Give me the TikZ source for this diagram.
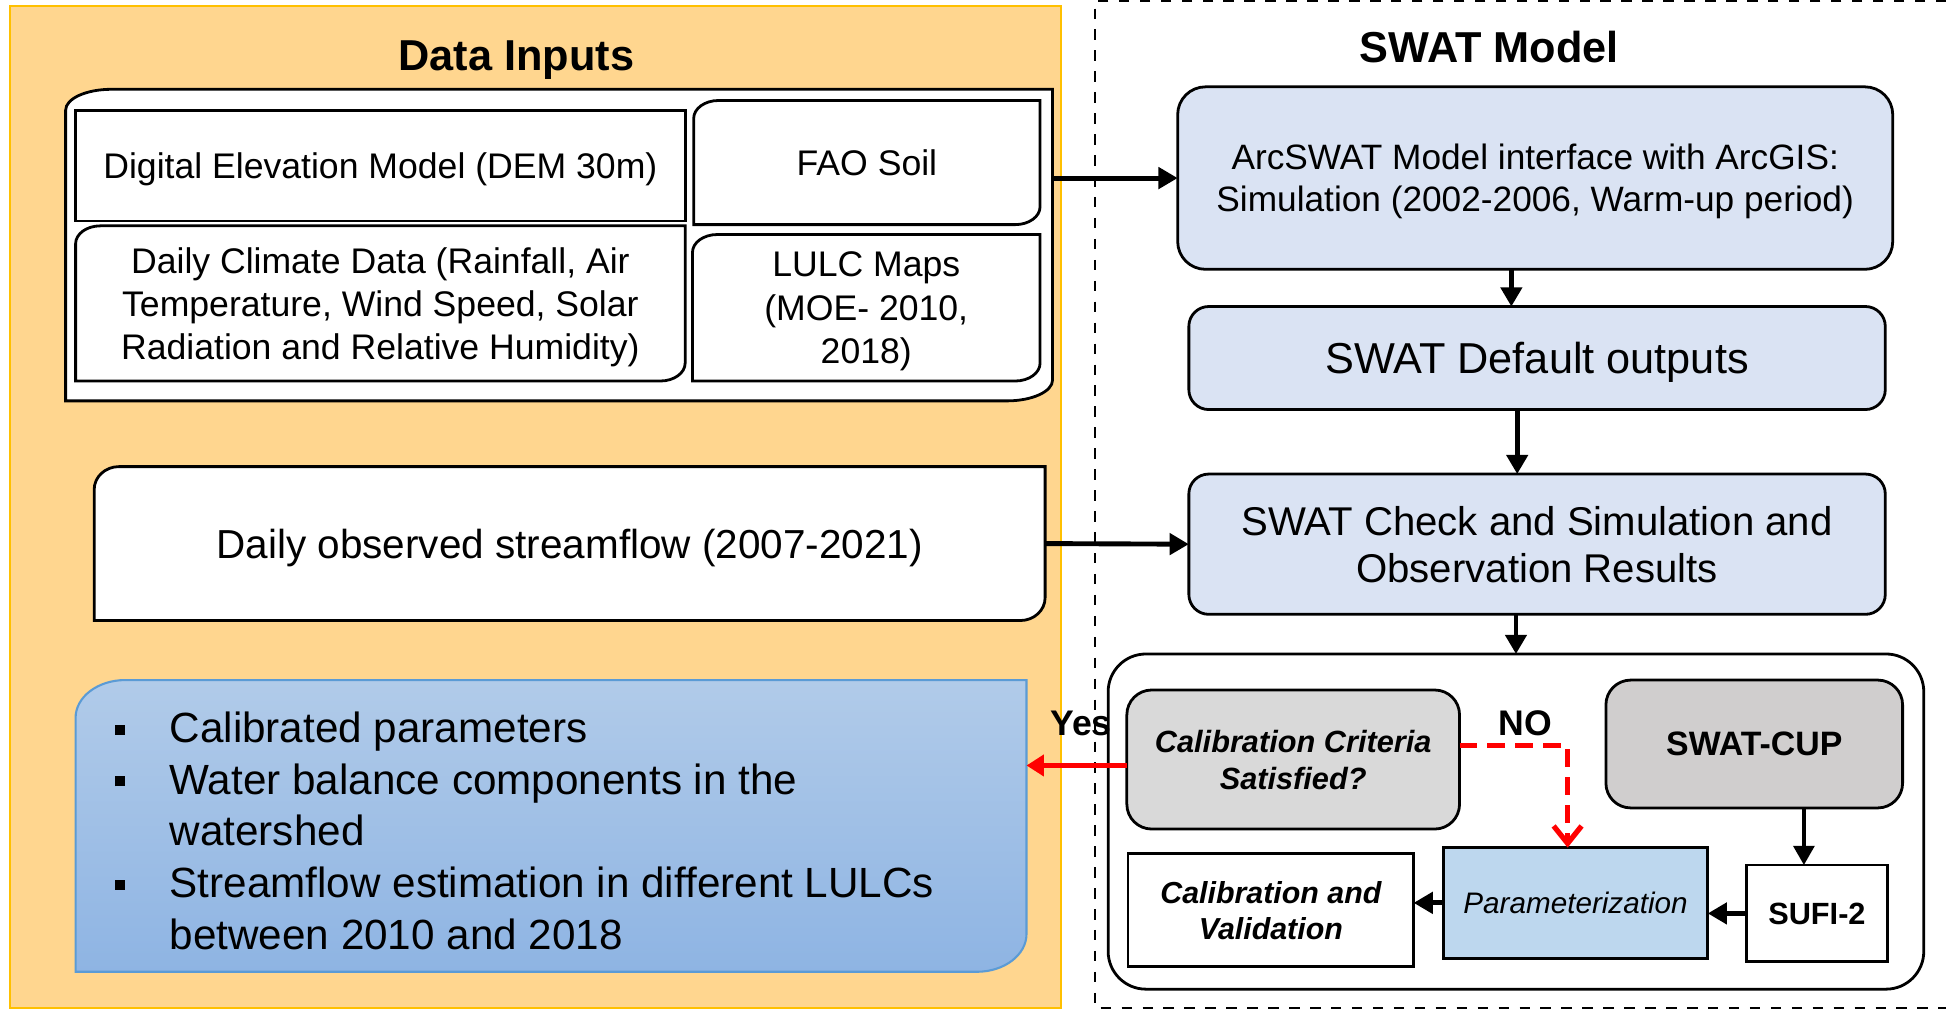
\documentclass[tikz,border=0pt]{standalone}
\usepackage{fontspec}
\setmainfont{Liberation Sans}
\usepackage{enumitem}
\usetikzlibrary{arrows.meta, backgrounds}

\definecolor{inputorange}{HTML}{FFD68F}
\definecolor{panelborder}{HTML}{FFC000}
\definecolor{swatblue}{HTML}{DAE3F3}
\definecolor{critgray}{HTML}{D9D9D9}
\definecolor{cupgray}{HTML}{D0CECE}
\definecolor{parblue}{HTML}{BDD7EE}
\definecolor{outtop}{HTML}{B1CBE9}
\definecolor{outbottom}{HTML}{8EB4E3}
\definecolor{outborder}{HTML}{5B9BD5}

\newcommand{\diagframe}[4]{%
  \path[#1] ([yshift=-#4]#2.north west) arc[start angle=180, end angle=90, x radius=#3, y radius=#4]
    -- (#2.north east) -- ([yshift=#4]#2.south east)
    arc[start angle=0, end angle=-90, x radius=#3, y radius=#4] -- (#2.south west) -- cycle;}

\tikzset{
    panel-title/.style = {font=\fontsize{12.4}{15}\selectfont\bfseries, text depth=0pt},
    input-box/.style = {rectangle, inner sep=0pt, outer sep=0pt, align=center, text depth=0pt, font=\fontsize{10.2}{12.4}\selectfont},
    frame-line/.style = {draw=black, fill=white, line width=0.8pt},
    swat-box/.style = {rectangle, draw=black, fill=swatblue, line width=0.8pt, rounded corners=0.2cm, inner sep=0pt, outer sep=0pt, align=center, text depth=0pt},
    calib-box/.style = {rectangle, draw=black, line width=0.8pt, inner sep=0pt, outer sep=0pt, align=center, text depth=0pt, font=\fontsize{8.8}{10.6}\selectfont\bfseries\itshape},
    out-box/.style = {rectangle, inner sep=0pt, outer sep=0pt, font=\fontsize{12.1}{14.8}\selectfont},
    flow-arrow/.style = {-{Triangle[length=5.5pt, width=6pt]}, line width=1.4pt},
    yes-arrow/.style = {-{Triangle[length=5pt, width=6pt]}, line width=1.4pt, red},
    no-arrow/.style = {-{Straight Barb[length=5pt, width=8pt]}, line width=1.5pt, red, dash pattern=on 5pt off 3pt},
    decision-label/.style = {font=\fontsize{10.2}{12}\selectfont\bfseries, text depth=0pt},
}

\begin{document}
\begin{tikzpicture}[x=0.0125cm, y=-0.0125cm]
\useasboundingbox (0,0) rectangle (1568,814);

\draw[dashed, line width=0.6pt] (1568,1) -- (882,1) -- (882,812) -- (1568,812);

\node[panel-title] (inputs-title) at (416,45) {Data Inputs};
\node[panel-title] (swat-title) at (1200,38) {SWAT Model};

\node[input-box, minimum width=9.9375cm, minimum height=3.1375cm] (inputs) at (450.5,197.5) {};
\node[input-box, frame-line, minimum width=6.1375cm, minimum height=1.1125cm] (dem) at (306.5,133.5) {Digital Elevation Model (DEM 30m)};
\node[input-box, minimum width=3.4875cm, minimum height=1.25cm] (soil) at (698.5,131) {FAO Soil};
\node[input-box, minimum width=6.1375cm, minimum height=1.5625cm] (climate) at (306.5,244.5) {Daily Climate Data (Rainfall, Air\\Temperature, Wind Speed, Solar\\Radiation and Relative Humidity)};
\node[input-box, minimum width=3.5cm, minimum height=1.475cm] (lulc) at (698,248) {LULC Maps\\(MOE- 2010,\\2018)};

\node[input-box, font=\fontsize{11.6}{14}\selectfont, minimum width=9.575cm, minimum height=1.55cm] (obs) at (459,438) {Daily observed streamflow (2007-2021)};

\node[out-box, minimum width=9.575cm, minimum height=2.9375cm] (output) at (444,665.5) {\begin{minipage}{9cm}
\vspace{0.1cm}
\begin{itemize}[leftmargin=0.66cm, labelsep=0.45cm, itemsep=0pt, topsep=0pt, parsep=0pt, partopsep=0pt, label={\rule[0.08cm]{0.1cm}{0.1cm}}]
\item Calibrated parameters
\item Water balance components in the\\ watershed
\item Streamflow estimation in different LULCs\\ between 2010 and 2018
\end{itemize}
\end{minipage}};

\node[swat-box, rounded corners=0.28cm, font=\fontsize{10.1}{12}\selectfont, minimum width=7.2cm, minimum height=1.8375cm] (arcswat) at (1237,143.5) {ArcSWAT Model interface with ArcGIS:\\Simulation (2002-2006, Warm-up period)};
\node[swat-box, font=\fontsize{12.4}{15}\selectfont, minimum width=7.0125cm, minimum height=1.0375cm] (default) at (1238.5,288.5) {SWAT Default outputs};
\node[swat-box, font=\fontsize{11.5}{13.5}\selectfont, minimum width=7.0125cm, minimum height=1.4125cm] (check) at (1238.5,438.5) {SWAT Check and Simulation and\\Observation Results};

\node[calib-box, fill=white, rounded corners=0.38cm, minimum width=8.2125cm, minimum height=3.375cm] (calib) at (1221.5,662) {};
\node[calib-box, fill=critgray, rounded corners=0.25cm, minimum width=3.35cm, minimum height=1.4cm] (criteria) at (1042,612) {Calibration Criteria\\Satisfied?};
\node[calib-box, fill=cupgray, rounded corners=0.25cm, font=\fontsize{9.7}{11.6}\selectfont\bfseries, minimum width=2.9875cm, minimum height=1.2875cm] (swatcup) at (1413.5,599.5) {SWAT-CUP};
\node[calib-box, fill=white, font=\fontsize{8.7}{10.3}\selectfont\bfseries\itshape, minimum width=2.875cm, minimum height=1.1375cm] (calval) at (1024,733.5) {Calibration and\\Validation};
\node[calib-box, fill=parblue, font=\fontsize{8.5}{10}\selectfont\itshape, minimum width=2.6625cm, minimum height=1.1125cm] (param) at (1269.5,727.5) {Parameterization};
\node[calib-box, fill=white, font=\fontsize{8.8}{10.5}\selectfont\bfseries, minimum width=1.425cm, minimum height=0.975cm] (sufi) at (1464,736) {SUFI-2};

\node[decision-label] (yes-label) at (871,583) {Yes};
\node[decision-label] (no-label) at (1229,583) {NO};

\draw[flow-arrow] (arcswat.west -| inputs.east) -- (arcswat.west);
\draw[flow-arrow] ([xshift=-0.24cm]arcswat.south) -- ([xshift=-0.24cm]arcswat.south |- default.north);
\draw[flow-arrow] ([xshift=-0.2cm]default.south) -- ([xshift=-0.2cm]default.south |- check.north);
\draw[flow-arrow] (obs.east) -- (check.west);
\draw[flow-arrow] (calib.north |- check.south) -- (calib.north);
\draw[yes-arrow] ([yshift=-0.06cm]criteria.west) -- ([yshift=-0.06cm]criteria.west -| output.east);
\draw[no-arrow] ([yshift=0.14cm]criteria.east) -| ([xshift=-0.08cm]param.north);
\draw[flow-arrow, line width=1pt] ([xshift=0.5cm]swatcup.south) -- ([xshift=0.5cm]swatcup.south |- sufi.north);
\draw[flow-arrow] (sufi.west) -- (sufi.west -| param.east);
\draw[flow-arrow] (param.west) -- (param.west -| calval.east);

\begin{scope}[on background layer]
\draw[draw=panelborder, fill=inputorange, line width=0.6pt] (8,5) rectangle (855,812);
\diagframe{frame-line}{inputs}{0.46cm}{0.21cm}
\diagframe{frame-line}{soil}{0.25cm}{0.18cm}
\diagframe{frame-line}{climate}{0.25cm}{0.18cm}
\diagframe{frame-line}{lulc}{0.25cm}{0.18cm}
\diagframe{frame-line}{obs}{0.25cm}{0.23cm}
\diagframe{draw=outborder, line width=0.6pt, top color=outtop, bottom color=outbottom}{output}{0.5cm}{0.38cm}
\end{scope}
\end{tikzpicture}
\end{document}
